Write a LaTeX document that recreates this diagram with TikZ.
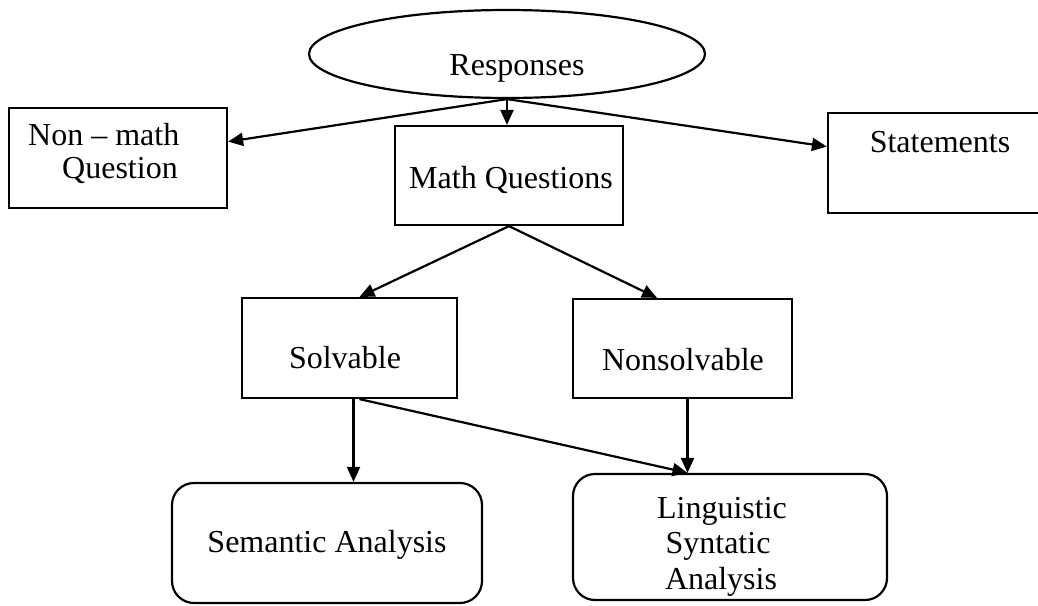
\documentclass[tikz,border=0pt]{standalone}
\usepackage{fontspec}
\setmainfont{Liberation Serif}
\usetikzlibrary{arrows.meta,shapes.geometric,calc}
\begin{document}
\begin{tikzpicture}[x=1pt,y=-1pt,
  box/.style={draw, line width=2.2pt, rectangle, inner sep=0pt},
  rbox/.style={box, rounded corners=22pt},
  lbl/.style={font=\fontsize{32}{34}\selectfont, inner sep=0pt, anchor=base},
  arr/.style={line width=2.2pt, -{Triangle[length=15pt,width=13pt]}}]
\useasboundingbox (0,0) rectangle (1038,605);
\clip (0,0) rectangle (1038,605);
% shapes
\node[box, ellipse, minimum width=396pt, minimum height=88pt] (resp) at (507,54) {};
\node[box, minimum width=218pt, minimum height=100pt] (nonmath) at (118,158) {};
\node[box, minimum width=228pt, minimum height=99pt] (mathq) at (509,175.5) {};
\node[box, minimum width=230pt, minimum height=100pt] (stmt) at (943,163) {};
\node[box, minimum width=215pt, minimum height=100pt] (solv) at (349.5,348) {};
\node[box, minimum width=219pt, minimum height=99pt] (nonsolv) at (682.5,348.5) {};
\node[rbox, minimum width=310pt, minimum height=120pt] (sem) at (327,543) {};
\node[rbox, minimum width=314pt, minimum height=126pt] (ling) at (730,537) {};
% labels
\node[lbl] (tresp) at (517,75) {Responses};
\node[lbl] (tmath) at (511,188) {Math Questions};
\node[lbl, anchor=base west] (tnm1) at (28,145) {Non -- math};
\node[lbl, anchor=base west] (tnm2) at (62,178) {Question};
\node[lbl] (tstmt) at (940,152) {Statements};
\node[lbl] (tsolv) at (345,368) {Solvable};
\node[lbl] (tnons) at (683,370) {Nonsolvable};
\node[lbl] (tsem) at (327,552) {Semantic Analysis};
\node[lbl] (tl1) at (722,518) {Linguistic};
\node[lbl] (tl2) at (718,553) {Syntatic};
\node[lbl] (tl3) at (721,589) {Analysis};
% connectors
\draw[arr] (resp.south) -- (resp.south |- mathq.north);
\draw[arr] (resp.south) -- ($(nonmath.north east)!0.34!(nonmath.south east)$);
\draw[arr] (resp.south) -- ($(stmt.north west)!0.34!(stmt.south west)$);
\draw[arr] (mathq.south) -- ($(solv.north)+(10,0)$);
\draw[arr] (mathq.south) -- ($(nonsolv.north west)!0.385!(nonsolv.north east)$);
\coordinate (sa) at ($(solv.south)+(4,0)$);
\coordinate (sb) at ($(solv.south)+(10,0)$);
\coordinate (ns) at ($(nonsolv.south)+(5,0)$);
\draw[arr] (sa) -- (sa |- sem.north);
\draw[arr] (ns) -- (ns |- ling.north);
\draw[arr] (sb) -- (ns |- ling.north);
\end{tikzpicture}
\end{document}
